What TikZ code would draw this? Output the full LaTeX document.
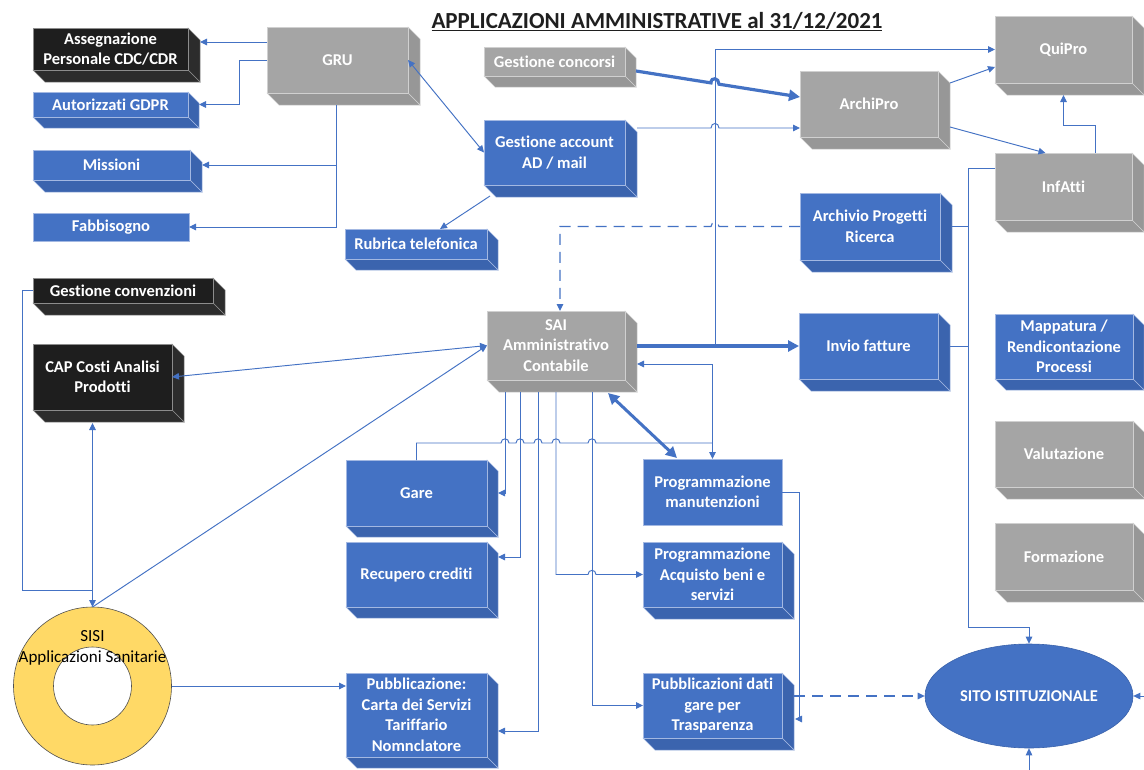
\documentclass[tikz,border=0pt]{standalone}
\usepackage{fontspec}
\setmainfont{Carlito}[Ligatures=NoCommon]
\usetikzlibrary{arrows.meta,shapes.geometric,calc}
\definecolor{cblue}{HTML}{4472C4}
\definecolor{bfront}{HTML}{4472C4}
\definecolor{bside}{HTML}{3B64AE}
\definecolor{bedge}{HTML}{A3B8E2}
\definecolor{gfront}{HTML}{A5A5A5}
\definecolor{gside}{HTML}{979797}
\definecolor{gedge}{HTML}{D0D0D0}
\definecolor{kfront}{HTML}{1E1E1E}
\definecolor{kside}{HTML}{2C2C2C}
\definecolor{kedge}{HTML}{8C8C8C}
\definecolor{ringfill}{HTML}{FFD966}
\definecolor{ringedge}{HTML}{505050}
\definecolor{sitoedge}{HTML}{3A62AB}
\definecolor{ttl}{HTML}{1F1F1F}
\newcommand{\cubebox}[8]{%
  \path[#7side] (#2+#4,#3) -- ++(#6,#6) -- ++(0,#5) -- ++(-#6,-#6) -- cycle;
  \path[#7side] (#2,#3+#5) -- ++(#4,0) -- ++(#6,#6) -- ++(-#4,0) -- cycle;
  \node[#7front, minimum width=#4, minimum height=#5, anchor=north west] (#1) at (#2,#3) {#8};
}
\tikzset{
  line/.style={draw=cblue, line width=0.95pt},
  arr/.style={line, -{Triangle[length=7pt,width=6.5pt]}},
  darr/.style={line, {Triangle[length=7pt,width=6.5pt]}-{Triangle[length=7pt,width=6.5pt]}},
  thk/.style={draw=cblue, line width=3.2pt, -{Triangle[length=11pt,width=11pt]}},
  dthk/.style={draw=cblue, line width=3pt, {Triangle[length=11pt,width=11pt]}-{Triangle[length=11pt,width=11pt]}},
  dsh/.style={line width=1.1pt, dash pattern=on 11pt off 7pt},
  boxtxt/.style={font=\bfseries\fontsize{16.5}{20.5}\selectfont, text=white, align=center, inner sep=0pt, outer sep=0pt},
  blufront/.style={boxtxt, fill=bfront, draw=bedge, line width=0.5pt},
  bluside/.style={fill=bside, draw=bedge, line width=0.5pt},
  gryfront/.style={boxtxt, fill=gfront, draw=gedge, line width=0.5pt},
  gryside/.style={fill=gside, draw=gedge, line width=0.5pt},
  blkfront/.style={boxtxt, fill=kfront, draw=kedge, line width=0.5pt},
  blkside/.style={fill=kside, draw=kedge, line width=0.5pt},
}
\begin{document}
\begin{tikzpicture}[x=1pt,y=-1pt]
\useasboundingbox (0,0) rectangle (1144,769);
\fill[white] (0,0) rectangle (1144,769);

% title
\node[font=\bfseries\fontsize{23}{26}\selectfont, text=ttl, anchor=base, inner sep=0pt] (title) at (657,28) {\underline{APPLICAZIONI AMMINISTRATIVE al 31/12/2021}};

% boxes
\cubebox{assegn}{33}{28}{155}{42}{12}{blk}{Assegnazione\\Personale CDC/CDR}
\cubebox{gdpr}{33}{92}{155}{25}{11}{blu}{Autorizzati GDPR}
\cubebox{missioni}{33}{150}{157}{30}{12}{blu}{Missioni}
\node[blufront, minimum width=156, minimum height=28, anchor=north west] (fabb) at (33,213) {Fabbisogno};
\cubebox{gru}{267}{27}{141}{66}{12}{gry}{GRU}
\cubebox{rubrica}{345}{229}{142}{30}{11}{blu}{Rubrica telefonica}
\cubebox{concorsi}{484}{47}{141}{29}{11}{gry}{Gestione concorsi}
\cubebox{account}{484}{120}{141}{65}{12}{blu}{Gestione account\\AD / mail}
\cubebox{archipro}{800}{71}{138}{66}{12}{gry}{ArchiPro}
\cubebox{quipro}{995}{16}{137}{67}{12}{gry}{QuiPro}
\cubebox{infatti}{995}{153}{137}{67}{12}{gry}{InfAtti}
\cubebox{archivio}{800}{193}{140}{67}{12}{blu}{Archivio Progetti\\Ricerca}
\cubebox{convenz}{33}{278}{180}{25}{12}{blk}{Gestione convenzioni}
\cubebox{cap}{33}{344}{139}{66}{12}{blk}{CAP Costi Analisi\\Prodotti}
\cubebox{sai}{487}{311}{138}{69}{12}{gry}{SAI\\Amministrativo\\Contabile}
\cubebox{invio}{799}{313}{139}{66}{12}{blu}{Invio fatture}
\cubebox{mappa}{995}{314}{138}{65}{11}{blu}{Mappatura /\\Rendicontazione\\Processi}
\cubebox{valuta}{995}{421}{138}{66}{12}{gry}{Valutazione}
\cubebox{forma}{995}{523}{138}{67}{12}{gry}{Formazione}
\cubebox{gare}{346}{460}{141}{66}{11}{blu}{Gare}
\cubebox{recupero}{346}{542}{141}{65}{11}{blu}{Recupero crediti}
\cubebox{pubbl}{346}{673}{141}{84}{11}{blu}{Pubblicazione:\\Carta dei Servizi\\Tariffario\\Nomnclatore}
\node[blufront, minimum width=139, minimum height=66, anchor=north west] (progman) at (643,459) {Programmazione\\manutenzioni};
\cubebox{progacq}{643}{542}{139}{65}{12}{blu}{Programmazione\\Acquisto beni e\\servizi}
\cubebox{pubdati}{643}{673}{139}{65}{12}{blu}{Pubblicazioni dati\\gare per\\Trasparenza}

% SITO
\node[ellipse, fill=bfront, draw=sitoedge, line width=0.6pt, minimum width=208, minimum height=104, inner sep=0pt,
      font=\bfseries\fontsize{16.5}{20}\selectfont, text=white] (sito) at (1029,696) {SITO ISTITUZIONALE};

% SISI ring
\fill[ringfill, even odd rule] (92.5,686) circle[radius=79] (92.5,686) circle[radius=39];
\draw[ringedge, line width=0.6pt] (92.5,686) circle[radius=79] (92.5,686) circle[radius=39];
\node[circle, minimum size=158, inner sep=0pt, outer sep=0pt] (sisi) at (92.5,686) {};
\node[font=\fontsize{17}{21}\selectfont, align=center, text=black, inner sep=0pt] (sisit) at (92.5,648) {SISI\\Applicazioni Sanitarie};

% ---- connectors: top left
\draw[arr] (gru.west |- 0,42) -- ([xshift=12pt]assegn.east |- 0,42);
\draw[arr] (gru.west |- 0,60) -- (239,60) |- ([xshift=11pt]gdpr.east);
\coordinate (gruBot) at ($(gru.south)+(-1,12)$);
\draw[arr] (gruBot) |- (fabb.east);
\draw[arr] (gruBot |- missioni.east) -- ([xshift=12pt]missioni.east);
\draw[darr] (gru.east) -- (account.west);
\draw[arr] ($(account.south west)+(6,11)$) -- ([xshift=24pt]rubrica.north);

% ---- top middle
\draw[thk] ([xshift=11pt]concorsi.east |- 0,71) -- (711,82.9) .. controls (711,76.5) and (719,77.8) .. (719,84.2) -- (archipro.west |- 0,97);
\draw[arr] ([xshift=12pt]account.east |- 0,128) -- (711,128) .. controls (711,122) and (719,122) .. (719,128) -- (archipro.west |- 0,128);
\coordinate (jq) at (715,346);
\draw[arr] (jq) |- (quipro.west);
\draw[arr] ([xshift=12pt]archipro.east |- 0,83) -- (quipro.west |- 0,67);
\draw[arr] ([xshift=12pt]archipro.east |- 0,127) -- ([xshift=-18pt]infatti.north);
\draw[arr] ([xshift=32pt]infatti.north) -- ++(0,-28) -| ($(quipro.south)+(0,12)$);

% ---- right bus to SITO
\coordinate (bus) at (968,627);
\draw[arr] (infatti.west |- 0,168) -| (bus) -| (sito.north);
\draw[line] ([xshift=12pt]archivio.east |- 0,226) -- (bus |- 0,226);
\draw[line] ([xshift=12pt]invio.east) -- (bus |- invio.east);

% ---- dashed Archivio -> SAI
\draw[arr,dsh] (archivio.west) -- (719,226.5) .. controls (719,221) and (711,221) .. (711,226.5) -- ([xshift=4pt]sai.north |- 0,226.5) -- ([xshift=4pt]sai.north);

% ---- SAI -> Invio fatture
\draw[thk] ([xshift=12pt]sai.east |- invio.west) -- (invio.west);

% ---- left side
\draw[darr] (cap.east) -- (sai.west);
\draw[arr] (sisi.north) -- (sai.west);
\draw[darr] (sisi.north |- 0,423) -- (sisi.north);
\draw[line] (convenz.west) -| (22,590) -- (sisi.north |- 0,590);
\draw[arr] (sisi.east) -- (pubbl.west |- sisi.east);

% ---- SAI bottom lines
\coordinate (s1) at ($(sai.south west)+(18,12)$);
\coordinate (s2) at ($(sai.south west)+(33,12)$);
\coordinate (s3) at ($(sai.south west)+(51,12)$);
\coordinate (s4) at ($(sai.south west)+(69,12)$);
\coordinate (s5) at ($(sai.south west)+(105,12)$);
\draw[arr] (s1) |- ([xshift=11pt]gare.east);
\draw[arr] (s2) |- ([xshift=11pt]recupero.east |- 0,557);
\draw[arr] (s3) |- ([xshift=11pt]pubbl.east |- 0,731);
\draw[arr] (s4) |- (588,574.5) .. controls (588,569) and (596,569) .. (596,574.5) -- (progacq.west);
\draw[arr] (s5) |- (pubdati.west);

% Gare line with hops
\draw[line] (gare.north) |- (501,443)
  .. controls (501,437.5) and (509,437.5) .. (509,443) -- (516,443)
  .. controls (516,437.5) and (524,437.5) .. (524,443) -- (534,443)
  .. controls (534,437.5) and (542,437.5) .. (542,443) -- (552,443)
  .. controls (552,437.5) and (560,437.5) .. (560,443) -- (588,443)
  .. controls (588,437.5) and (596,437.5) .. (596,443) -- (progman.north |- 0,443);

\draw[darr] ([xshift=12pt]sai.east |- 0,364) -| (progman.north);
\draw[dthk] ($(sai.south east)+(-17,13)$) -- ($(progman.north west)+(34,-1)$);
\draw[arr] (progman.east) -- ++(17,0) |- ([xshift=13pt]pubdati.east |- 0,719);
\draw[arr,dsh] ([xshift=12pt]pubdati.east |- sito.west) -- (sito.west);
\coordinate (offS) at (1029,775);
\draw[arr] (offS) -- (sito.south);
\coordinate (offE) at (1150,696);
\draw[arr] (offE) -- (sito.east);
\end{tikzpicture}
\end{document}
